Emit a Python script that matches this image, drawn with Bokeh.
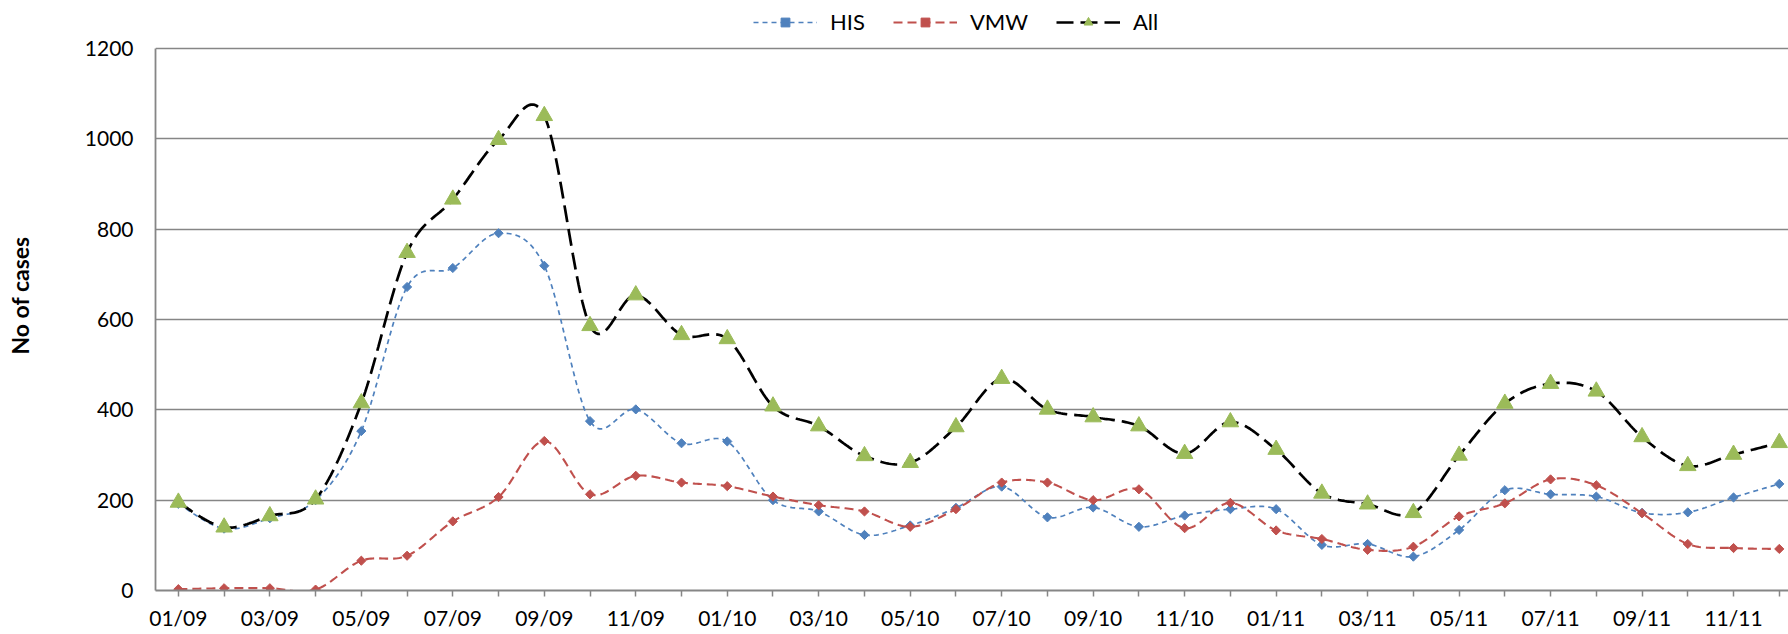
import numpy as np
from bokeh.plotting import figure
from bokeh.models import Legend, LegendItem, FixedTicker, Range1d
from bokeh.embed import file_html
from bokeh.resources import INLINE

months = ["01/09", "02/09", "03/09", "04/09", "05/09", "06/09", "07/09", "08/09", "09/09", "10/09", "11/09", "12/09",
          "01/10", "02/10", "03/10", "04/10", "05/10", "06/10", "07/10", "08/10", "09/10", "10/10", "11/10", "12/10",
          "01/11", "02/11", "03/11", "04/11", "05/11", "06/11", "07/11", "08/11", "09/11", "10/11", "11/11", "12/11"]
his = [192, 137, 160, 200, 353, 672, 714, 791, 719, 375, 401, 326,
       330, 200, 175, 123, 144, 183, 230, 162, 184, 141, 166, 180,
       180, 101, 103, 75, 134, 222, 213, 208, 172, 173, 206, 236]
vmw = [3, 5, 5, 2, 66, 77, 153, 207, 331, 213, 254, 239,
       231, 208, 189, 175, 141, 180, 239, 239, 200, 224, 138, 194,
       133, 114, 90, 97, 164, 193, 246, 233, 171, 103, 94, 92]
all_cases = [195, 140, 165, 202, 415, 748, 866, 998, 1051, 586, 654, 566,
             557, 408, 364, 298, 283, 362, 469, 401, 384, 364, 303, 373,
             312, 215, 191, 172, 299, 414, 458, 441, 340, 276, 301, 327]
y_ticks = [0, 200, 400, 600, 800, 1000, 1200]

FONT = "Lato"
GRID = "#868686"

FRAME_H = 590          # frame spans from the very top (legend lives inside it)
PX_1200 = 48           # pixel row of the 1200 gridline
Y_TOP = 1200 * FRAME_H / (FRAME_H - PX_1200)
FRAME_W = 1633
X_END = -0.5 + FRAME_W / 45.74


def smooth(ys, n=24):
    """Excel-like smoothed line: cubic Bezier segments (Catmull-Rom control points)."""
    pts = np.column_stack([np.arange(len(ys)), ys]).astype(float)
    m = len(pts)
    xs_out, ys_out = [], []
    for i in range(m - 1):
        p0 = pts[max(i - 1, 0)]
        p1 = pts[i]
        p2 = pts[i + 1]
        p3 = pts[min(i + 2, m - 1)]
        c1 = p1 + (p2 - p0) / 6.0
        c2 = p2 - (p3 - p1) / 6.0
        t = np.linspace(0, 1, n, endpoint=(i == m - 2))[:, None]
        b = ((1 - t) ** 3) * p1 + 3 * ((1 - t) ** 2) * t * c1 + 3 * (1 - t) * t ** 2 * c2 + t ** 3 * p2
        xs_out.extend(b[:, 0])
        ys_out.extend(b[:, 1])
    return xs_out, ys_out


p = figure(frame_width=FRAME_W, frame_height=FRAME_H, output_backend="svg", toolbar_location=None,
           x_range=Range1d(-0.5, X_END), y_range=Range1d(0, Y_TOP),
           min_border_left=155, min_border_right=0, min_border_top=0, min_border_bottom=10)
p.outline_line_color = None
p.background_fill_color = "white"
p.border_fill_color = "white"

xi = list(range(len(months)))

# HIS
hx, hy = smooth(his)
r_his_l = p.line(hx, hy, line_color="#4F81BD", line_width=1.7, line_dash="5 4")
r_his_m = p.scatter(xi, his, marker="square", angle=np.pi / 4, size=6.5,
                    fill_color="#4F81BD", line_color="#4F81BD")
# VMW
vx, vy = smooth(vmw)
r_vmw_l = p.line(vx, vy, line_color="#C0504D", line_width=2.1, line_dash="9 5")
r_vmw_m = p.scatter(xi, vmw, marker="square", angle=np.pi / 4, size=6.5,
                    fill_color="#C0504D", line_color="#C0504D")
# All
ax_, ay_ = smooth(all_cases)
r_all_l = p.line(ax_, ay_, line_color="black", line_width=2.7, line_dash="17 7")
r_all_m = p.scatter(xi, all_cases, marker="triangle", size=16.5,
                    fill_color="#9BBB59", line_color="#9BBB59")

# axes
p.xaxis.ticker = FixedTicker(ticks=xi)
p.xaxis.major_label_overrides = {i: (months[i] if i % 2 == 0 else "") for i in xi}
p.xaxis.minor_tick_line_color = None
p.xaxis.major_tick_out = 6
p.xaxis.major_tick_in = 0
p.xaxis.major_tick_line_color = GRID
p.xaxis.major_tick_line_width = 1.5
p.xaxis.axis_line_color = GRID
p.xaxis.axis_line_width = 1.8
p.xaxis.major_label_text_font = FONT
p.xaxis.major_label_text_font_size = "21px"
p.xaxis.major_label_text_color = "black"
p.xaxis.major_label_standoff = 8

p.yaxis.ticker = FixedTicker(ticks=y_ticks)
p.yaxis.bounds = (0, 1200)
p.yaxis.minor_tick_line_color = None
p.yaxis.major_tick_out = 0
p.yaxis.major_tick_in = 0
p.yaxis.axis_line_color = GRID
p.yaxis.axis_line_width = 1.8
p.yaxis.major_label_text_font = FONT
p.yaxis.major_label_text_font_size = "21px"
p.yaxis.major_label_text_color = "black"
p.yaxis.major_label_standoff = 22
p.yaxis.axis_label = "No of cases"
p.yaxis.axis_label_text_font = FONT
p.yaxis.axis_label_text_font_style = "bold"
p.yaxis.axis_label_text_font_size = "23px"
p.yaxis.axis_label_text_color = "black"
p.yaxis.axis_label_standoff = 48

p.xgrid.grid_line_color = None
p.ygrid.grid_line_color = GRID
p.ygrid.grid_line_width = 1.6

legend = Legend(items=[
    LegendItem(label="HIS", renderers=[r_his_l, r_his_m]),
    LegendItem(label="VMW", renderers=[r_vmw_l, r_vmw_m]),
    LegendItem(label="All", renderers=[r_all_l, r_all_m]),
], orientation="horizontal", location=(598, 555))
legend.label_text_font = FONT
legend.label_text_font_size = "22px"
legend.label_text_color = "black"
legend.glyph_width = 64
legend.glyph_height = 22
legend.label_standoff = 13
legend.spacing = 28
legend.padding = 0
legend.margin = 0
legend.border_line_color = None
legend.background_fill_alpha = 0
p.add_layout(legend, "center")

open("out.html", "w").write(file_html(p, INLINE))
